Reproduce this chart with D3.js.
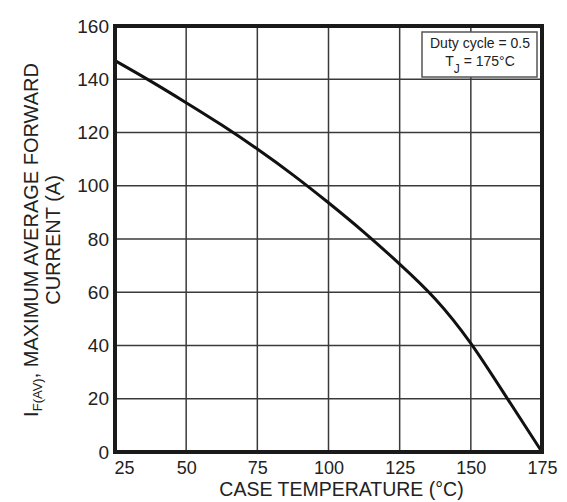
<!DOCTYPE html>
<html>
<head>
<meta charset="utf-8">
<script src="https://cdn.jsdelivr.net/npm/d3@7"></script>
<style>
  body { margin: 0; background: #fff; }
  text { font-family: "Liberation Sans", Arial, sans-serif; fill: #222; }
</style>
</head>
<body>
<div id="chart"></div>
<script>
// case temperature (°C) and max average forward current (A)
var caseTemps = [25, 37.5, 50, 62.5, 75, 87.5, 100, 112.5, 125, 137.5, 150, 162.5, 175];
var currents = [147, 139.3, 131.2, 122.8, 113.8, 104.1, 93.6, 82.5, 70.6, 57.5, 40.8, 20.6, 0];
var xTicks = [25, 50, 75, 100, 125, 150, 175];
var yTicks = [0, 20, 40, 60, 80, 100, 120, 140, 160];

var margin = { top: 26, right: 25, bottom: 50, left: 115 },
    width = 567 - margin.left - margin.right,
    height = 502 - margin.top - margin.bottom;

var x = d3.scaleLinear().domain([25, 175]).range([0, width]);
var y = d3.scaleLinear().domain([0, 160]).range([height, 0]);

var svg = d3.select("#chart").append("svg")
    .attr("width", 567)
    .attr("height", 502)
    .append("g")
    .attr("transform", "translate(" + margin.left + "," + margin.top + ")");

// grid lines
svg.append("g")
    .selectAll("line")
    .data(xTicks.slice(1, -1))
    .enter().append("line")
    .attr("x1", function (d) { return x(d); })
    .attr("x2", function (d) { return x(d); })
    .attr("y1", 0)
    .attr("y2", height)
    .attr("stroke", "#3a3a3a")
    .attr("stroke-width", 1.5);

svg.append("g")
    .selectAll("line")
    .data(yTicks.slice(1, -1))
    .enter().append("line")
    .attr("x1", 0)
    .attr("x2", width)
    .attr("y1", function (d) { return y(d); })
    .attr("y2", function (d) { return y(d); })
    .attr("stroke", "#3a3a3a")
    .attr("stroke-width", 1.5);

// the curve
var line = d3.line()
    .x(function (d, i) { return x(caseTemps[i]); })
    .y(function (d) { return y(d); })
    .curve(d3.curveNatural);

svg.append("path")
    .datum(currents)
    .attr("d", line)
    .attr("fill", "none")
    .attr("stroke", "#111")
    .attr("stroke-width", 3);

// frame
svg.append("rect")
    .attr("x", 0)
    .attr("y", 0)
    .attr("width", width)
    .attr("height", height)
    .attr("fill", "none")
    .attr("stroke", "#1a1a1a")
    .attr("stroke-width", 4);

// axes (labels only)
var xAxis = svg.append("g")
    .attr("transform", "translate(0," + height + ")")
    .call(d3.axisBottom(x).tickValues(xTicks).tickSize(0).tickPadding(9));
xAxis.select(".domain").remove();
xAxis.selectAll("text")
    .style("font-size", "18px")
    .attr("fill", "#222")
    .attr("dx", function (d, i) { return i === 0 ? 9 : 0; });

var yAxis = svg.append("g")
    .call(d3.axisLeft(y).tickValues(yTicks).tickSize(0).tickPadding(6));
yAxis.select(".domain").remove();
yAxis.selectAll("text")
    .style("font-size", "19px")
    .attr("fill", "#222");

// x title
svg.append("text")
    .attr("x", x(100) + 13)
    .attr("y", height + 44)
    .attr("text-anchor", "middle")
    .style("font-size", "19.5px")
    .text("CASE TEMPERATURE (°C)");

// y title, two lines
var yt = svg.append("g")
    .attr("transform", "translate(-77," + (height / 2 + 1) + ") rotate(-90)");
var l1 = yt.append("text")
    .attr("x", 0)
    .attr("y", 0)
    .attr("text-anchor", "middle")
    .style("font-size", "20px");
l1.append("tspan").text("I");
l1.append("tspan").attr("dy", 4).style("font-size", "13px").text("F(AV)");
l1.append("tspan").attr("dy", -4).text(", MAXIMUM AVERAGE FORWARD");
yt.append("text")
    .attr("x", 0)
    .attr("y", 22)
    .attr("text-anchor", "middle")
    .style("font-size", "20px")
    .text("CURRENT (A)");

// condition box
var box = svg.append("g")
    .attr("transform", "translate(" + (width - 120) + ",6)");
box.append("rect")
    .attr("width", 115)
    .attr("height", 45)
    .attr("fill", "#fff")
    .attr("stroke", "#555")
    .attr("stroke-width", 1.5);
box.append("text")
    .attr("x", 58)
    .attr("y", 16)
    .attr("text-anchor", "middle")
    .style("font-size", "14px")
    .text("Duty cycle = 0.5");
var t2 = box.append("text")
    .attr("x", 58)
    .attr("y", 34)
    .attr("text-anchor", "middle")
    .style("font-size", "14px");
t2.append("tspan").text("T");
t2.append("tspan").attr("dy", 7).style("font-size", "12px").text("J");
t2.append("tspan").attr("dy", -7).text(" = 175°C");
</script>
</body>
</html>
